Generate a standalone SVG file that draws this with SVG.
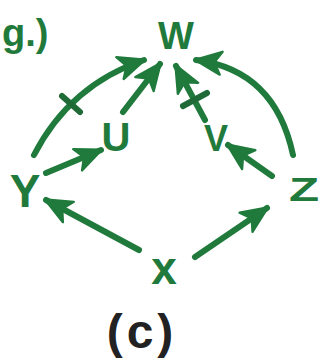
<svg xmlns="http://www.w3.org/2000/svg" width="333" height="361" viewBox="0 0 333 361">
<defs>
<style>
.lbl{font-family:"Liberation Sans",Arial,sans-serif;font-weight:bold;fill:#1f7a3c;text-anchor:middle}
.e{fill:none;stroke:#1f7a3c;stroke-width:6;stroke-linecap:round}
.tick{fill:none;stroke:#1f6a36;stroke-width:6;stroke-linecap:round}
</style>
<marker id="ah" markerUnits="userSpaceOnUse" markerWidth="30" markerHeight="30" viewBox="-22 -12 26 24" refX="2" refY="0" orient="auto">
<path d="M-20,-10 L3,0 L-20,10 L-14,0 Z" fill="#1f7a3c" stroke="#1f7a3c" stroke-width="2" stroke-linejoin="round"/>
</marker>
</defs>
<rect width="333" height="361" fill="#ffffff"/>
<text x="2" y="46" font-family="Liberation Sans,Arial,sans-serif" font-size="38" fill="#1f7a3c" font-weight="bold">g.)</text>
<g id="connectors">
<path class="e" d="M34,155 Q70,85 144,60" marker-end="url(#ah)"/>
<path class="tick" d="M62,96 L80,112"/>
<path class="e" d="M46,173 L101,150" marker-end="url(#ah)"/>
<path class="e" d="M123,112 L160,64" marker-end="url(#ah)"/>
<path class="e" d="M205,120 L176,66" marker-end="url(#ah)"/>
<path class="tick" d="M183,106 L207,93"/>
<path class="e" d="M272,176 L228,145" marker-end="url(#ah)"/>
<path class="e" d="M293,155 Q275,70 196,60" marker-end="url(#ah)"/>
<path class="e" d="M139,250 L46,200" marker-end="url(#ah)"/>
<path class="e" d="M195,257 L267,208" marker-end="url(#ah)"/>
</g>
<g id="node-W"><text class="lbl" x="176" y="49" font-size="38">W</text></g>
<g id="node-U"><text class="lbl" x="116" y="151" font-size="40">U</text></g>
<g id="node-V"><text class="lbl" x="216" y="151" font-size="36">V</text></g>
<g id="node-Y"><text class="lbl" x="25" y="207" font-size="46">Y</text></g>
<g id="node-Z"><text class="lbl" x="0" y="201" font-size="34" transform="translate(304,0) scale(1.45,1)">Z</text></g>
<g id="node-X"><text class="lbl" x="164" y="284" font-size="46">x</text></g>
<text x="142" y="348" font-family="Liberation Sans,Arial,sans-serif" font-size="48" font-weight="bold" fill="#222" text-anchor="middle" letter-spacing="4">(c)</text>
</svg>
